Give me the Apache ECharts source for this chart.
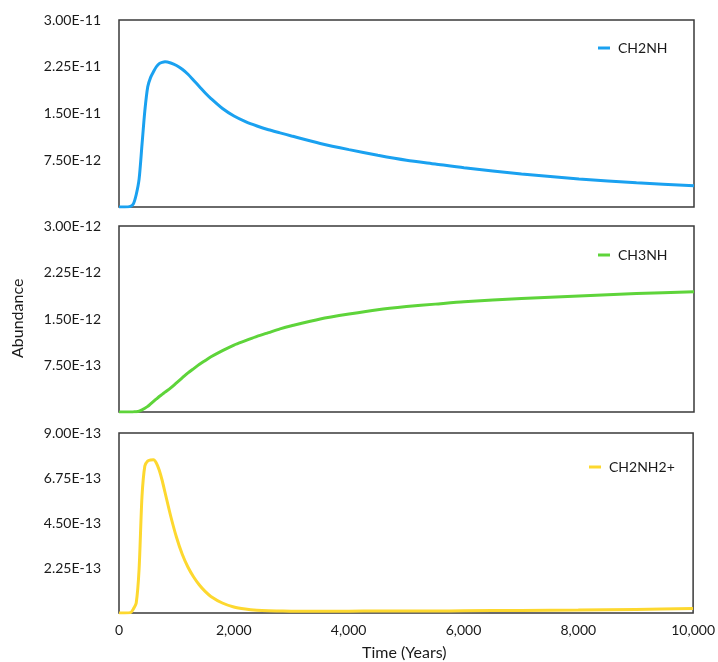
<!DOCTYPE html>
<html><head><meta charset="utf-8">
<script src="https://cdn.jsdelivr.net/npm/echarts@6/dist/echarts.min.js"></script>
<style>html,body{margin:0;padding:0;background:#fff;}#c{width:718px;height:662px;}</style>
</head><body><div id="c"></div>
<script>
const times = [0,100,200,250,300,350,400,450,500,550,600,650,700,750,800,900,1000,1100,1200,1300,1400,1500,1600,1800,2000,2200,2400,2600,2800,3000,3500,4000,4500,5000,5500,6000,7000,8000,9000,10000];
// CH2NH (x1e-11)
const ch2nh = [0,0,0.01,0.05,0.2,0.45,1.0,1.55,1.93,2.08,2.17,2.25,2.30,2.32,2.33,2.31,2.27,2.21,2.13,2.03,1.93,1.83,1.74,1.58,1.46,1.37,1.30,1.24,1.19,1.14,1.02,0.92,0.83,0.75,0.69,0.63,0.53,0.45,0.39,0.34];
// CH3NH (x1e-12)
const ch3nh = [0,0,0,0.002,0.005,0.015,0.035,0.06,0.09,0.13,0.17,0.21,0.25,0.285,0.32,0.39,0.47,0.55,0.63,0.70,0.77,0.83,0.89,0.99,1.08,1.15,1.22,1.28,1.34,1.39,1.50,1.58,1.65,1.70,1.74,1.78,1.83,1.87,1.91,1.94];
// CH2NH2+ (x1e-13)
const ch2nh2p = [0,0,0.02,0.2,0.5,2.2,5.8,7.35,7.6,7.65,7.66,7.5,7.15,6.65,6.05,4.85,3.8,2.95,2.3,1.8,1.4,1.08,0.83,0.5,0.3,0.2,0.14,0.11,0.1,0.09,0.09,0.09,0.1,0.1,0.1,0.11,0.13,0.15,0.18,0.22];
const seriesNames = ['CH2NH','CH3NH','CH2NH2+'];
const scales = [1e-11,1e-12,1e-13];
const yMax = [3e-11,3e-12,9e-13];
const xTicks = [0,2000,4000,6000,8000,10000];
const colors = ['#1aa1f0','#5ed43a','#fdd82f'];

const font = 'Lato, "Open Sans", sans-serif';
const txt = '#1a1a1a';
const grids = [
  {left:119,right:24,top:20,height:187},
  {left:119,right:24,top:226,height:186},
  {left:119,right:24,top:433,height:180}
].map(g=>Object.assign(g,{show:true,borderColor:'#3a3a3a',borderWidth:1.5,backgroundColor:'transparent'}));
const raw = [ch2nh,ch3nh,ch2nh2p];
const xAxes=[], yAxes=[], series=[], legends=[];
const legendPos=[{left:593,top:36},{left:593,top:243},{left:584,top:455}];
for(let i=0;i<3;i++){
  xAxes.push({type:'value',gridIndex:i,min:0,max:10000,interval:2000,
    axisLine:{show:false},axisTick:{show:false},splitLine:{show:false},
    axisLabel:{show:i===2,margin:10,color:txt,fontFamily:font,fontSize:14,
      formatter:v=>v.toLocaleString('en-US')}});
  yAxes.push({type:'value',gridIndex:i,min:0,max:yMax[i],interval:yMax[i]/4,
    axisLine:{show:false},axisTick:{show:false},splitLine:{show:false},
    axisLabel:{margin:18,color:txt,fontFamily:font,fontSize:14,
      formatter:v=>v===0?'':Number(v).toExponential(2).toUpperCase()}});
  series.push({name:seriesNames[i],type:'line',xAxisIndex:i,yAxisIndex:i,
    data:times.map((t,k)=>[t,raw[i][k]*scales[i]]),
    showSymbol:false,smooth:0.25,
    lineStyle:{color:colors[i],width:3},itemStyle:{color:colors[i]}});
  legends.push({data:[seriesNames[i]],left:legendPos[i].left,top:legendPos[i].top,
    icon:'rect',itemWidth:12,itemHeight:3,itemGap:5,
    textStyle:{color:txt,fontFamily:font,fontSize:14,padding:[0,0,0,3]}});
}
const chart = echarts.init(document.getElementById('c'));
chart.setOption({
  animation:false,
  grid:grids,xAxis:xAxes,yAxis:yAxes,series:series,legend:legends,
  graphic:[
    {type:'text',left:362,top:645,style:{text:'Time (Years)',fill:txt,font:'16px '+font}},
    {type:'text',x:10,y:358,rotation:Math.PI/2,style:{text:'Abundance',fill:txt,font:'16px '+font}}
  ]
});
</script></body></html>
